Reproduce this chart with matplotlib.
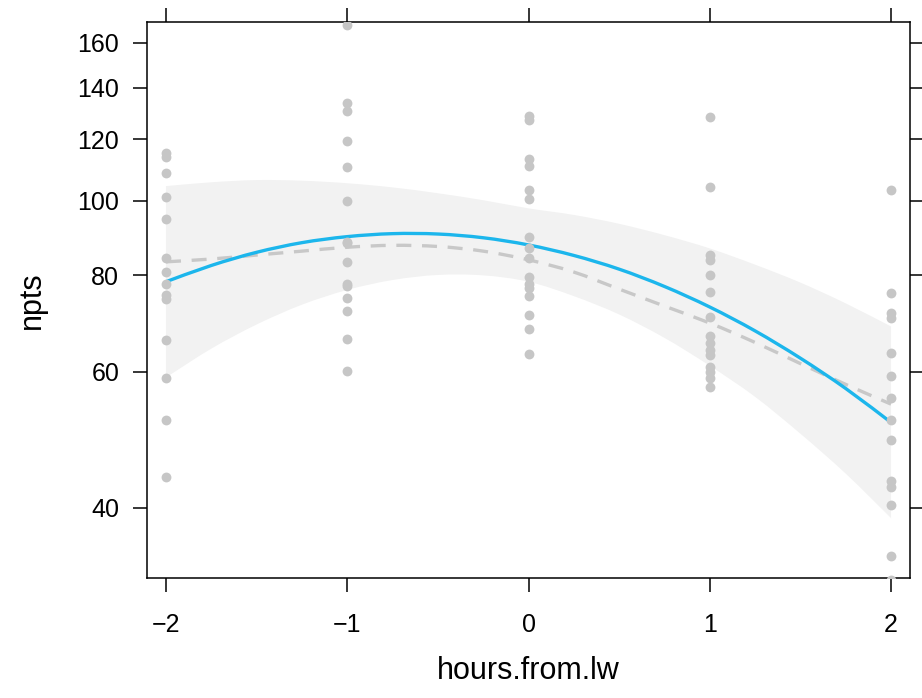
import numpy as np
import matplotlib
matplotlib.use("Agg")
import matplotlib.pyplot as plt
from matplotlib.path import Path
from matplotlib.patches import PathPatch
from matplotlib.ticker import FixedLocator, NullLocator

plt.rcParams['font.family'] = ['Liberation Sans', 'DejaVu Sans']

# partial residuals by hours from low water
hours = [-2, -1, 0, 1, 2]
npts_m2 = [115.3, 113.8, 108.7, 101.2, 94.6, 84.2, 80.9, 78.0, 75.5, 74.5, 66.0, 58.9, 52.0, 43.8]
npts_m1 = [168.8, 133.6, 130.7, 119.4, 110.4, 100.0, 88.5, 88.1, 83.2, 78.0, 77.4, 74.7, 72.0, 66.2, 60.2]
npts_0 = [128.6, 127.1, 113.1, 110.9, 103.2, 100.4, 89.8, 86.7, 84.2, 79.5, 78.0, 77.0, 75.2, 71.1, 68.1, 63.3]
npts_1 = [128.4, 104.0, 85.0, 83.8, 80.1, 76.1, 70.6, 66.7, 65.3, 64.1, 63.1, 60.9, 60.0, 58.9, 57.4]
npts_2 = [103.2, 75.9, 71.5, 70.4, 63.4, 59.3, 55.5, 52.0, 49.0, 43.3, 42.6, 40.3, 34.6, 32.3]

# fitted effect, confidence band and smoother of residuals
grid = [-2, -1.75, -1.5, -1.25, -1, -0.75, -0.5, -0.25, 0, 0.25, 0.5, 0.75, 1, 1.25, 1.5, 1.75, 2]
fit = [78.5, 82.4, 85.7, 88.2, 89.8, 90.6, 90.5, 89.5, 87.6, 84.9, 81.5, 77.4, 72.8, 67.8, 62.5, 57.1, 51.6]
upper = [104.4, 105.6, 106.3, 106.1, 105.3, 104.0, 102.2, 100.1, 97.7, 95.8, 93.3, 90.2, 86.7, 82.6, 78.3, 73.6, 68.7]
lower = [59.0, 64.3, 69.1, 73.3, 76.6, 78.9, 80.1, 80.0, 78.5, 75.2, 71.2, 66.4, 61.1, 55.7, 49.9, 44.3, 38.8]
smooth = [83.3, 84.0, 85.0, 86.0, 87.0, 87.5, 87.2, 86.0, 83.8, 80.8, 76.8, 73.0, 69.4, 65.5, 61.5, 57.8, 54.5]

yticks = [40, 60, 80, 100, 120, 140, 160]


def smooth_vertices(xs, ys):
    """Catmull-Rom through (x, log y), returned as cubic Bezier vertices."""
    px = np.asarray(xs, float)
    py = np.log(np.asarray(ys, float))
    n = len(px)
    verts = [(px[0], py[0])]
    for i in range(n - 1):
        i0, i3 = max(i - 1, 0), min(i + 2, n - 1)
        c1 = (px[i] + (px[i + 1] - px[i0]) / 6, py[i] + (py[i + 1] - py[i0]) / 6)
        c2 = (px[i + 1] - (px[i3] - px[i]) / 6, py[i + 1] - (py[i3] - py[i]) / 6)
        verts += [c1, c2, (px[i + 1], py[i + 1])]
    v = np.array(verts)
    v[:, 1] = np.exp(v[:, 1])
    return v


def curve_path(xs, ys):
    v = smooth_vertices(xs, ys)
    codes = [Path.MOVETO] + [Path.CURVE4] * (len(v) - 1)
    return Path(v, codes)


def band_path(xs, lo, hi):
    top = smooth_vertices(xs, hi)
    bot = smooth_vertices(xs[::-1], lo[::-1])
    v = np.vstack([top, bot, top[:1]])
    codes = ([Path.MOVETO] + [Path.CURVE4] * (len(top) - 1) +
             [Path.LINETO] + [Path.CURVE4] * (len(bot) - 1) + [Path.CLOSEPOLY])
    return Path(v, codes)


fig = plt.figure(figsize=(9.22, 6.98), dpi=100)
ax = fig.add_axes([147 / 922, 1 - 578 / 698, 763 / 922, 556 / 698])
ax.set_yscale('log')
ax.set_xlim(-2.1048, 2.1048)
ax.set_ylim(32.45, 170.3)

ax.add_patch(PathPatch(band_path(grid, lower, upper), facecolor='#f2f2f2',
                       edgecolor='none', linewidth=0, zorder=1))
ax.add_patch(PathPatch(curve_path(grid, smooth), facecolor='none', edgecolor='#c8c8c8',
                       linewidth=2.4, linestyle=(0, (4.5, 3.2)), zorder=2))
ax.add_patch(PathPatch(curve_path(grid, fit), facecolor='none', edgecolor='#1cb6ec',
                       linewidth=2.4, capstyle='butt', zorder=3))

cols = [npts_m2, npts_m1, npts_0, npts_1, npts_2]
for h, vals in zip(hours, cols):
    ax.scatter([h] * len(vals), vals, s=50, color='#c6c6c6', linewidths=0, zorder=4)

ax.yaxis.set_major_locator(FixedLocator(yticks))
ax.yaxis.set_minor_locator(NullLocator())
ax.set_yticklabels([str(t) for t in yticks])
ax.set_xticks(hours)
ax.set_xticklabels(['\u22122', '\u22121', '0', '1', '2'])

for s in ax.spines.values():
    s.set_linewidth(1.1)
ax.tick_params(axis='both', which='both', direction='out', length=10, width=1.1,
               top=True, right=True, labelsize=18)
ax.tick_params(axis='y', pad=10)
ax.tick_params(axis='x', pad=15)

ax.set_xlabel('hours.from.lw', fontsize=22, labelpad=14)
ax.set_ylabel('npts', fontsize=22, labelpad=22)

fig.savefig('out.png', dpi=100)
